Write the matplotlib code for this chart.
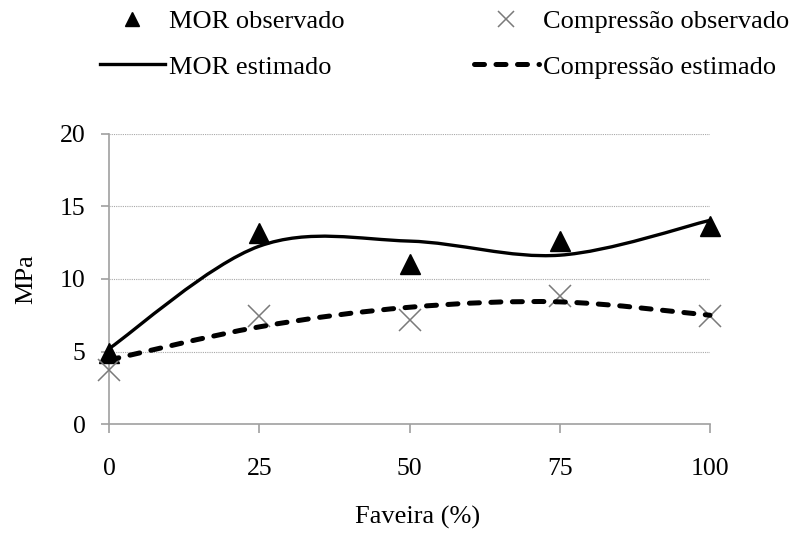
import matplotlib
matplotlib.use('Agg')
import matplotlib.pyplot as plt
import numpy as np
from matplotlib.path import Path
from matplotlib.patches import PathPatch
from matplotlib.lines import Line2D

# ---- data ----
faveira = [0, 25, 50, 75, 100]
mor_obs = [4.9, 13.15, 11.0, 12.6, 13.65]
comp_obs = [3.75, 7.45, 7.2, 8.8, 7.45]
mor_est = [5.2, 12.25, 12.6, 11.63, 14.03]
comp_est = [4.42, 6.7, 8.05, 8.42, 7.5]
xticks = [0, 25, 50, 75, 100]
yticks = [0, 5, 10, 15, 20]
labels = ['MOR observado', 'MOR estimado', 'Compressão observado', 'Compressão estimado']

plt.rcParams['font.family'] = ['Liberation Serif', 'DejaVu Serif']


def smooth_path(x, y):
    """Excel-like smoothed line: cubic Bezier segments through the points."""
    pts = np.column_stack([x, y]).astype(float)
    n = len(pts)
    verts = [pts[0]]
    codes = [Path.MOVETO]
    for i in range(n - 1):
        p0 = pts[max(i - 1, 0)]
        p1 = pts[i]
        p2 = pts[i + 1]
        p3 = pts[min(i + 2, n - 1)]
        c1 = p1 + (p2 - p0) / 6.0
        c2 = p2 - (p3 - p1) / 6.0
        verts += [c1, c2, p2]
        codes += [Path.CURVE4] * 3
    return Path(verts, codes)


W, H = 806, 533
fig = plt.figure(figsize=(W / 100, H / 100), dpi=100)
ax = fig.add_axes([109 / W, 1 - 424.3 / H, 601 / W, 290.8 / H])

axis_col = '#a0a0a0'
ax.set_xlim(0, 100)
ax.set_ylim(0, 20)
ax.set_xticks(xticks)
ax.set_yticks(yticks)
ax.set_xticklabels([str(v) for v in xticks])
ax.set_yticklabels([str(v) for v in yticks])
for s in ['top', 'right']:
    ax.spines[s].set_visible(False)
for s in ['left', 'bottom']:
    ax.spines[s].set_color(axis_col)
    ax.spines[s].set_linewidth(1.2)
ax.yaxis.grid(True, linestyle=(0, (1, 1)), color='#a8a8a8', linewidth=0.8)
ax.set_axisbelow(True)
ax.tick_params(axis='both', direction='out', color=axis_col, width=1.2, labelsize=18.5)
ax.tick_params(axis='y', length=6, pad=11)
ax.tick_params(axis='x', length=6.5, pad=18)

# observed markers
ax.plot(faveira, mor_obs, ls='none', marker='^', ms=15, color='black', clip_on=False, zorder=3)
ax.plot(faveira, comp_obs, ls='none', marker='x', ms=16, mew=1.1, color='#7a7a7a', clip_on=False, zorder=3)

# estimated smoothed lines
p1 = PathPatch(smooth_path(faveira, mor_est), fill=False, edgecolor='black', linewidth=2.4,
               transform=ax.transData, clip_on=False, zorder=4)
ax.add_patch(p1)
p2 = PathPatch(smooth_path(faveira, comp_est), fill=False, edgecolor='black', linewidth=3.6,
               linestyle=(0, (2.0, 2.3)), capstyle='round', transform=ax.transData,
               clip_on=False, zorder=4)
ax.add_patch(p2)

ax.set_ylabel('MPa', fontsize=19, va='center')
ax.yaxis.set_label_coords(-0.137, 0.5)
ax.set_xlabel('Faveira (%)', fontsize=19, va='center')
ax.xaxis.set_label_coords(0.514, -0.322)

handles = [
    Line2D([], [], ls='none', marker='^', ms=9.5, color='black'),
    Line2D([], [], color='black', lw=2.4),
    Line2D([], [], ls='none', marker='x', ms=12, mew=1.1, color='#7a7a7a'),
    Line2D([], [], color='black', lw=3.6, ls=(0, (2.0, 2.3)), dash_capstyle='round'),
]
leg = fig.legend(handles, labels, ncol=2, loc='upper left',
                 bbox_to_anchor=(100 / W, 1 - 10 / H), bbox_transform=fig.transFigure,
                 frameon=False, fontsize=19, borderpad=0, borderaxespad=0,
                 handlelength=2.46, handletextpad=0.15, columnspacing=4.9,
                 labelspacing=0.82)

fig.savefig('out.png', dpi=100)
